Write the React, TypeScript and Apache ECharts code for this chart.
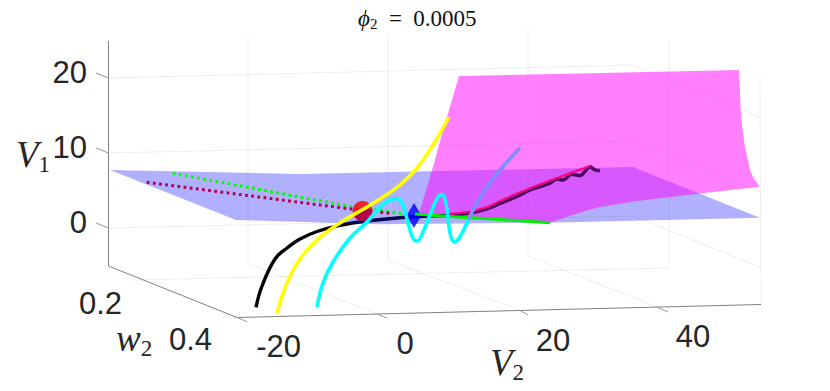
import React, { useEffect, useRef } from "react";
import * as echarts from "echarts";

type P = [number, number];

const titleText = "{a|ϕ}{b|2}{c|  =  0.0005}";
const v1TickLabels = ["20", "10", "0"];
const w2TickLabels = ["0.2", "0.4"];
const v2TickLabels = ["-20", "0", "20", "40"];

const bluePlane: P[] = [[110, 170], [300, 174], [633, 167], [760, 217.7], [547, 222.7], [380, 224.2], [236, 220]];
const magentaSurface: P[] = [
  [459, 76], [739, 70], [740.7, 110], [742, 125], [745, 146.7], [750, 170], [754, 179], [760, 186.7],
  [700, 193.5], [633, 201.5], [600, 207], [580, 212.5], [565, 217.5], [550, 222.7], [500, 219.5], [450, 216.5], [418, 214.5],
  [420, 211], [426, 190], [433, 167], [443, 130], [452, 100],
];

const blackCurve: P[] = [[256, 307.3], [262, 286], [275, 259], [287, 248], [300, 239], [317, 231.5], [340, 225.3], [367, 221], [400, 217.8], [433, 215.7]];
const darkCurve: P[] = [[433, 215.7], [447, 215.5], [470, 213], [487, 209], [500, 203.5], [517, 196.5], [530, 190], [540, 186.7], [550, 183.3], [556.7, 179], [563, 180], [571.7, 174.3], [580, 175.7], [590, 166.7], [595, 170], [600, 170.7]];
const pinkCurve: P[] = [[447, 214], [470, 211.5], [487, 207], [500, 201], [530, 188.3], [560, 177], [590, 166]];
const yellowCurve: P[] = [[277, 313], [287, 283], [300, 259], [317, 240], [340, 223], [367, 207], [383, 197], [400, 185], [417, 168], [433, 145], [449, 117]];
const cyanCurve: P[] = [[317, 307], [323, 283], [333, 262], [350, 238], [367, 222], [380, 207], [390, 199.8], [397, 198.5], [403, 205], [408, 223], [413, 238], [417, 241], [423, 232], [432, 210], [438, 197], [442, 194.5], [446, 203], [450, 233], [454, 242], [460, 236.7], [468, 220]];
const blueCurve: P[] = [[468, 220], [477, 203], [485, 190], [500, 170], [520, 148]];
const greenCurve: P[] = [[415, 214], [450, 216.5], [500, 219.5], [550, 222.7]];
const greenDotted: P[] = [[172.7, 173.3], [348, 206], [402, 213.5]];
const crimsonDotted: P[] = [[146.7, 182.3], [346.7, 208.5], [392, 213.5]];
const redPoint: P[] = [[362.5, 211]];
const bluePoint: P[] = [[414, 215.5]];

const boxAxes: P[][] = [
  [[108.5, 41], [108.5, 266], [237, 317.5], [761, 304.5]],
];
const axisTicks: P[][] = [
  [[96, 73], [108.5, 78]], [[96, 148], [108.5, 153]], [[96, 223], [108.5, 228]],
  [[237, 317.5], [247, 321.7]], [[377, 314], [387, 318]], [[520, 310.5], [528, 315]], [[657, 307], [668, 312]],
];
const gridLines: P[][] = [
  [[108.5, 78], [633, 65], [760, 117]],
  [[108.5, 153], [633, 141], [760, 192]],
  [[108.5, 228], [633, 216], [760, 267]],
  [[248, 37], [248, 263], [377, 314]],
  [[388, 33.5], [388, 260], [520, 310.5]],
  [[528, 30], [528, 256], [657, 307]],
  [[669, 41], [669, 268], [132, 280]],
  [[760, 78], [761, 304.5]],
  [[223, 317], [237, 317.5]],
];

const solid = (data: P[], color: string, width: number, z: number, smooth: number | boolean = 0.4) => ({
  type: "line", data, symbol: "none", smooth, clip: false, silent: true, z,
  lineStyle: { color, width, cap: "butt", join: "round" },
});
const dotted = (data: P[], color: string, z: number) => ({
  type: "line", data, symbol: "none", clip: false, silent: true, z,
  lineStyle: { color, width: 3, type: [2.8, 3.4] },
});
const polygon = (data: P[], fill: string, z: number) => ({
  type: "custom", data, clip: false, silent: true, z,
  encode: { x: 0, y: 1 },
  renderItem: (params: any, api: any) => {
    if (params.dataIndex !== 0) return null;
    return { type: "polygon", shape: { points: data.map((p) => api.coord(p)) }, style: { fill } };
  },
});
const lowerHalf = (data: P[], fill: string, z: number) => ({
  type: "custom", data, clip: false, silent: true, z,
  encode: { x: 0, y: 1 },
  renderItem: (_: any, api: any) => {
    const c = api.coord([api.value(0), api.value(1)]);
    return { type: "sector", shape: { cx: c[0], cy: c[1], r0: 0, r: 10, startAngle: -0.25, endAngle: Math.PI - 0.25 }, style: { fill } };
  },
});

const SANS = "'Liberation Sans', Arial, sans-serif";
const SERIF = "'Liberation Serif', 'DejaVu Serif', serif";
const tick = (text: string, x: number, y: number, align = "center") => ({
  type: "text", z: 50, silent: true, x, y,
  style: { text, fill: "#262626", font: `31px ${SANS}`, textAlign: align, textVerticalAlign: "middle" },
});
const mathLabel = (text: string, x: number, y: number) => ({
  type: "text", z: 50, silent: true, x, y,
  style: {
    text, fill: "#262626", textAlign: "left", textVerticalAlign: "middle",
    rich: {
      v: { fontFamily: SERIF, fontStyle: "italic", fontSize: 37, lineHeight: 44, fill: "#262626", color: "#262626" },
      s: { fontFamily: SERIF, fontSize: 23, lineHeight: 24, verticalAlign: "bottom", fill: "#262626", color: "#262626" },
    },
  },
});

export default function App() {
  const ref = useRef<HTMLDivElement>(null);
  useEffect(() => {
    const chart = echarts.init(ref.current!, undefined, { renderer: "svg" });
    chart.setOption({
      animation: false,
      backgroundColor: "#ffffff",
      title: {
        text: titleText, left: 353, top: 0,
        textStyle: {
          fontWeight: "normal",
          rich: {
            a: { fontFamily: SERIF, fontStyle: "italic", fontWeight: "normal", fontSize: 23, lineHeight: 26, color: "#111" },
            b: { fontFamily: SERIF, fontWeight: "normal", fontSize: 15, lineHeight: 16, verticalAlign: "bottom", color: "#111" },
            c: { fontFamily: SERIF, fontWeight: "normal", fontSize: 23, lineHeight: 26, color: "#111" },
          },
        },
      },
      grid: { left: 0, right: 0, top: 0, bottom: 0 },
      xAxis: { type: "value", min: 0, max: 830, show: false },
      yAxis: { type: "value", min: 0, max: 391, inverse: true, show: false },
      tooltip: { show: false },
      series: [
        ...gridLines.map((d) => solid(d, "rgba(38,38,38,0.08)", 1, 1, false)),
        ...boxAxes.map((d) => solid(d, "#808080", 1, 2, false)),
        ...axisTicks.map((d) => solid(d, "#999999", 1, 2, false)),
        solid(blackCurve, "#000000", 3.4, 3),
        polygon(bluePlane, "rgba(0,0,255,0.31)", 4),
        polygon(magentaSurface, "rgba(255,0,255,0.5)", 5),
        solid(darkCurve, "#4c0060", 3.4, 6, 0.25),
        solid(pinkCurve, "#ff0080", 2.2, 7),
        dotted(greenDotted, "#00ff00", 8),
        dotted(crimsonDotted, "#b0004f", 8),
        { type: "scatter", data: redPoint, symbol: "circle", symbolSize: 20, silent: true, clip: false, z: 9, itemStyle: { color: "#ff0000" } },
        lowerHalf(redPoint, "#b0004f", 10),
        { type: "scatter", data: bluePoint, symbol: "diamond", symbolSize: [15, 25], silent: true, clip: false, z: 11, itemStyle: { color: "#0000ff" } },
        solid(greenCurve, "#00ee00", 3, 12),
        solid(blueCurve, "#7f8cff", 3.6, 12),
        solid(cyanCurve, "#00ffff", 3.6, 13),
        solid(yellowCurve, "#ffff00", 3.6, 14),
      ],
      graphic: {
        elements: [
          tick(v1TickLabels[0], 87, 72, "right"),
          tick(v1TickLabels[1], 87, 147, "right"),
          tick(v1TickLabels[2], 87, 222, "right"),
          tick(w2TickLabels[0], 122, 303, "right"),
          tick(w2TickLabels[1], 212, 339, "right"),
          tick(v2TickLabels[0], 301, 346, "right"),
          tick(v2TickLabels[1], 405, 343),
          tick(v2TickLabels[2], 553, 340),
          tick(v2TickLabels[3], 693, 336.5),
          mathLabel("{v|V}{s|1}", 16, 154),
          mathLabel("{v|w}{s|2}", 116, 338),
          mathLabel("{v|V}{s|2}", 490, 362),
        ],
      },
    });
    return () => chart.dispose();
  }, []);
  return <div ref={ref} style={{ position: "absolute", left: 0, top: 0, width: 830, height: 391 }} />;
}
